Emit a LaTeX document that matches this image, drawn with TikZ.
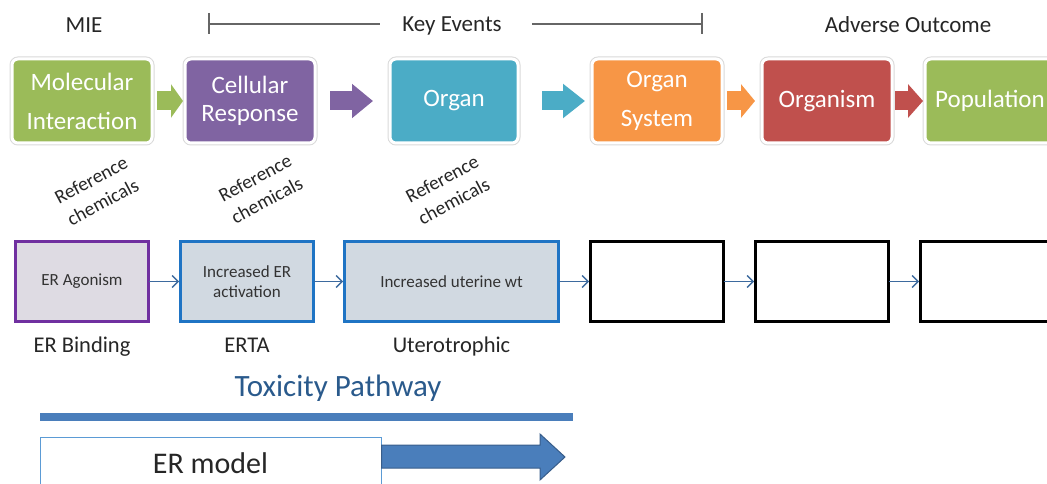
\documentclass[tikz,border=0pt]{standalone}
\usepackage{fontspec}
\setmainfont{Carlito}
\usepackage{tikz}
\usetikzlibrary{arrows.meta,positioning}

\definecolor{aopgreen}{HTML}{9BBB59}
\definecolor{aoppurple}{HTML}{8064A2}
\definecolor{aopteal}{HTML}{4BACC6}
\definecolor{aoporange}{HTML}{F79646}
\definecolor{aopred}{HTML}{C0504D}
\definecolor{erpurple}{HTML}{7030A0}
\definecolor{erblue}{HTML}{1F74C4}
\definecolor{ergray}{HTML}{DEDBE3}
\definecolor{erfill}{HTML}{D1D9E1}
\definecolor{linkblue}{HTML}{3D6A9E}
\definecolor{pathblue}{HTML}{4A7EBB}
\definecolor{titleblue}{HTML}{2A5A8C}
\definecolor{modelblue}{HTML}{5B9BD5}
\definecolor{arrowedge}{HTML}{385D8A}

\begin{document}
\begin{tikzpicture}[
  x=1pt, y=-1pt,
  >=Latex,
  node distance=32pt,
  event/.style={rounded corners=6pt, minimum height=84pt, minimum width=130pt, align=center, text=white, outer sep=0pt, draw=white, line width=3pt, preaction={draw=black!15, line width=5pt}, font=\fontsize{25}{28}\selectfont},
  flow/.style={line width=19pt, -{Triangle[width=33pt,length=#1]}},
  head/.style={font=\fontsize{23}{27}\selectfont, text=black!85},
  bracket/.style={draw=black!60, line width=1.2pt},
  refchem/.style={rotate=28, align=center, inner sep=1pt, font=\fontsize{19.5}{25}\selectfont, text=black!85},
  assay/.style={draw, line width=3pt, minimum width=133pt, minimum height=80pt, outer sep=0pt, align=center, font=\fontsize{17}{20}\selectfont, text=black!80},
  link/.style={draw=linkblue, line width=1.3pt, shorten >=1.5pt, -{Straight Barb[length=6pt,width=12pt]}},
  lbl/.style={font=\fontsize{22.5}{27}\selectfont, text=black!85, inner sep=0pt, text height=15pt, text depth=4pt}
]
\useasboundingbox (0,0) rectangle (1047,484);

\node[head] (mie) at (84,25) {MIE};
\node[head, inner sep=0pt] (keys) at (452,26) {Key Events};
\node[head] (ao) at (908,25) {Adverse Outcome};
\coordinate (kl) at (209,24);
\coordinate (kr) at (702,24);
\draw[bracket] (kl) -- ([xshift=-22pt]keys.west |- kl);
\draw[bracket] ([xshift=30pt]keys.east |- kr) -- (kr);
\draw[bracket] ([yshift=11pt]kl) -- ([yshift=-10pt]kl);
\draw[bracket] ([yshift=11pt]kr) -- ([yshift=-10pt]kr);

\node[event, fill=aopgreen, minimum width=140pt] (mol) at (82,101) {Molecular\\[11pt]Interaction};
\node[event, fill=aoppurple, right=33pt of mol] (cell) {Cellular\\Response};
\node[event, fill=aopteal, minimum width=128pt, right=75pt of cell] (organ) {Organ};
\node[event, fill=aoporange, right=74pt of organ] (orgsys) {Organ\\[11pt]System};
\node[event, fill=aopred, right=40pt of orgsys] (organism) {Organism};
\node[event, fill=aopgreen, right=33pt of organism] (pop) {Population};

\draw[flow=12pt, draw=aopgreen, shorten <=5pt, shorten >=2pt] (mol) -- (cell);
\draw[flow=21pt, draw=aoppurple, shorten <=15pt, shorten >=17pt] (cell) -- (organ);
\draw[flow=22pt, draw=aopteal, shorten <=24pt, shorten >=7pt] (organ) -- (orgsys);
\draw[flow=14pt, draw=aoporange, shorten <=5pt, shorten >=7pt] (orgsys) -- (organism);
\draw[flow=15pt, draw=aopred, shorten <=3pt, shorten >=2pt] (organism) -- (pop);

\node[refchem] (rc1) at (97,191) {Reference\\chemicals};
\node[refchem] (rc2) at (261,189) {Reference\\chemicals};
\node[refchem] (rc3) at (448,190) {Reference\\chemicals};

\node[assay, draw=erpurple, fill=ergray] (agon) at (82,281.5) {ER Agonism};
\node[assay, draw=erblue, fill=erfill, right=of agon] (act) {Increased ER\\activation};
\node[assay, draw=erblue, fill=erfill, minimum width=214pt, right=31pt of act] (uter) {Increased uterine wt};
\node[assay, draw=black, line width=3.5pt, fill=white, right=of uter] (blank1) {};
\node[assay, draw=black, line width=3.5pt, fill=white, right=of blank1] (blank2) {};
\node[assay, draw=black, line width=3.5pt, fill=white, right=of blank2] (blank3) {};

\draw[link] (agon) -- (act);
\draw[link] (act) -- (uter);
\draw[link] (uter) -- (blank1);
\draw[link] (blank1) -- (blank2);
\draw[link] (blank2) -- (blank3);

\node[lbl, below=16pt of agon] (bind) {ER Binding};
\node[lbl, below=16pt of act] (erta) {ERTA};
\node[lbl, below=16pt of uter] (utero) {Uterotrophic};

\node[font=\fontsize{31}{36}\selectfont, text=titleblue] (tox) at (338,388) {Toxicity Pathway};
\coordinate (tl) at (40,417);
\coordinate (tr) at (573,417);
\draw[line width=8pt, draw=pathblue] (tl) -- (tr);

\node[draw=modelblue, line width=1pt, minimum width=341pt, minimum height=52pt, font=\fontsize{30}{36}\selectfont, text=black!85] (model) at (210.5,463) {ER model};
\coordinate (tip) at (565,457);
\draw[fill=pathblue, draw=arrowedge, line width=1pt] (model.east |- 0,445) -- (540,445) -- (540,434) -- (tip) -- (540,480) -- (540,468) -- (model.east |- 0,468) -- cycle;
\end{tikzpicture}
\end{document}
